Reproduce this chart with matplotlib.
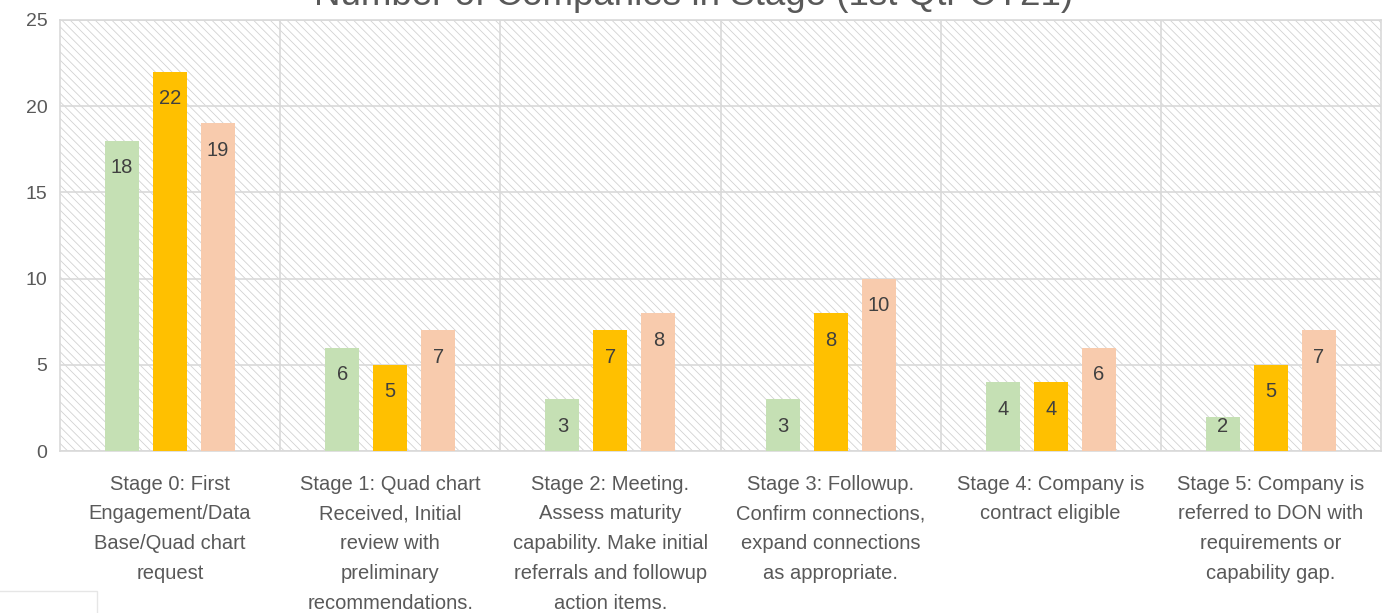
import numpy as np
import matplotlib
matplotlib.use('Agg')
import matplotlib.pyplot as plt
from matplotlib.patches import Rectangle

# data
stages = [
    'Stage 0: First\nEngagement/Data\nBase/Quad chart\nrequest',
    'Stage 1: Quad chart\nReceived, Initial\nreview with\npreliminary\nrecommendations.',
    'Stage 2: Meeting.\nAssess maturity\ncapability. Make initial\nreferrals and followup\naction items.',
    'Stage 3: Followup.\nConfirm connections,\nexpand connections\nas appropriate.',
    'Stage 4: Company is\ncontract eligible',
    'Stage 5: Company is\nreferred to DON with\nrequirements or\ncapability gap.',
]
series_1 = [18, 6, 3, 3, 4, 2]
series_2 = [22, 5, 7, 8, 4, 5]
series_3 = [19, 7, 8, 10, 6, 7]
yticks = [0, 5, 10, 15, 20, 25]
title = 'Number of Companies in Stage (1st Qtr CY21)'

colors = ['#C5E0B4', '#FFC000', '#F8CBAD']
grid_c = '#D9D9D9'
text_c = '#595959'
plt.rcParams['font.family'] = ['Liberation Sans', 'DejaVu Sans']
plt.rcParams['hatch.linewidth'] = 0.6

fig = plt.figure(figsize=(13.95, 6.13), dpi=100)
ax = fig.add_axes([60/1395, 1 - 451/613, (1381-60)/1395, (451-20)/613])

# hatched plot background
bg = Rectangle((0, 0), 1, 1, transform=ax.transAxes, facecolor='white',
               edgecolor='#D2D2D2', hatch='\\\\\\\\', linewidth=0, zorder=0)
ax.add_patch(bg)

x = np.arange(len(stages))
w = 0.155
off = 0.218
for i, vals in enumerate([series_1, series_2, series_3]):
    xs = x + (i - 1) * off
    ax.bar(xs, vals, width=w, color=colors[i], zorder=3)
    for xx, v in zip(xs, vals):
        ax.text(xx, max(v - 1.57, 1.4), str(v), ha='center', va='center',
                fontsize=14.5, color='#404040', zorder=4)

ax.set_xlim(-0.5, len(stages) - 0.5)
ax.set_ylim(0, 25)
ax.set_yticks(yticks)
ax.set_xticks(x)
ax.set_xticklabels(stages, fontsize=14.5, color=text_c, linespacing=1.72, va='top')
ax.set_xticks(x[:-1] + 0.5, minor=True)
ax.tick_params(axis='both', which='both', length=0)
ax.tick_params(axis='y', labelsize=14, labelcolor=text_c, pad=9)
ax.tick_params(axis='x', pad=17)

ax.grid(axis='y', color=grid_c, linewidth=1.2, zorder=1)
ax.grid(axis='x', which='minor', color=grid_c, linewidth=1.2, zorder=1)
ax.set_axisbelow(True)
for s in ax.spines.values():
    s.set_color(grid_c)
    s.set_linewidth(1.2)

# title sits partly above the top edge, as in the source image
fig.text(0.4975, 1 - 5/613, title, ha='center', va='baseline', fontsize=26.5,
         color=text_c)

# faint leftover box in the bottom-left corner
fig.add_artist(Rectangle((-0.01, -0.05), 97/1395 + 0.01, 0.05 + 22/613,
                         transform=fig.transFigure, facecolor='white',
                         edgecolor='#E6E6E6', linewidth=1))

fig.savefig('out.png', dpi=100)
